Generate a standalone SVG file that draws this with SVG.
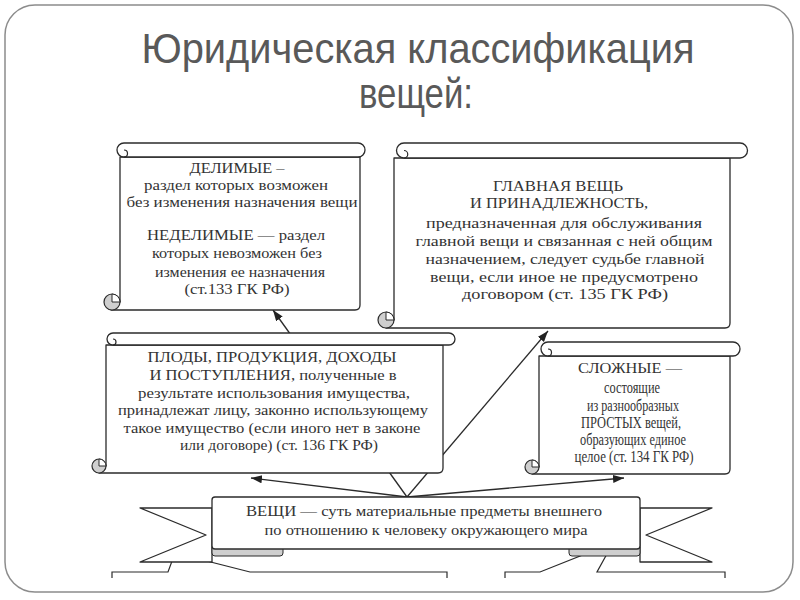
<svg xmlns="http://www.w3.org/2000/svg" width="800" height="600" viewBox="0 0 800 600">
<style>
.frame{fill:#fff;stroke:#8c8c8c;stroke-width:1.5}
.title{font-family:"Liberation Sans",Arial,sans-serif;font-size:43px;fill:#595959;text-anchor:middle}
.sh{fill:#fff;stroke:#2b2b2b;stroke-width:1.3;stroke-linejoin:round}
.curl{fill:#cfcfcf;stroke:#2b2b2b;stroke-width:1.2}
.wedge{fill:#fff;stroke:#2b2b2b;stroke-width:1}
.ln{fill:none;stroke:#2b2b2b;stroke-width:1.2}
.strip{fill:#cfcfcf;stroke:#2b2b2b;stroke-width:1}
.t{font-family:"Liberation Serif","Times New Roman",serif;fill:#333;text-anchor:middle;font-size:15px}
.s{font-size:16px}
.conn{fill:none;stroke:#2b2b2b;stroke-width:1.3}
</style>
<defs>
<marker id="ah" markerUnits="userSpaceOnUse" markerWidth="12" markerHeight="10" refX="11" refY="4" orient="auto">
<path d="M0,0 L11,4 L0,8 Z" fill="#222"/>
</marker>
</defs>

<rect class="frame" x="5" y="5" width="788" height="587" rx="30"/>

<g id="title">
<text class="title" x="418" y="63" textLength="553" lengthAdjust="spacingAndGlyphs">Юридическая классификация</text>
<text class="title" x="416" y="108" textLength="114" lengthAdjust="spacingAndGlyphs">вещей:</text>
</g>

<g id="connectors">
<path class="conn" d="M407,497 L273,310" marker-end="url(#ah)"/>
<path class="conn" d="M407,497 L548,331" marker-end="url(#ah)"/>
<path class="conn" d="M407,497 L251,478" marker-end="url(#ah)"/>
<path class="conn" d="M407,497 L624,478" marker-end="url(#ah)"/>
</g>

<g id="lower-ribbon">
<polyline class="ln" points="112,578 112,572 168,572 175,553 250,572 447,572 447,578"/>
<polyline class="ln" points="505,578 505,572 540,572 613,543 597,572 725,572 725,578"/>
</g>

<!-- top-left scroll -->
<g id="node-delimye">
<path class="sh" d="M120,157 V302 H111 V310 H355 Q360,310 360,305 V157 Z"/>
<circle class="curl" cx="112" cy="302" r="8"/>
<path class="wedge" d="M112,302 V294 A8,8 0 0 1 120,302 Z"/>
<path class="sh" d="M124,143 H358 A7,7 0 0 1 358,157 H124 A7,7 0 0 1 124,143 Z"/>
<path class="ln" d="M124,150 a3.5,3.5 0 1 1 0,7"/>
<text class="t" x="237" y="173" textLength="95" lengthAdjust="spacingAndGlyphs">ДЕЛИМЫЕ –</text>
<text class="t" x="236" y="190" textLength="184" lengthAdjust="spacingAndGlyphs">раздел которых возможен</text>
<text class="t" x="242" y="207" textLength="231" lengthAdjust="spacingAndGlyphs">без изменения назначения вещи</text>
<text class="t" x="236" y="240" textLength="178" lengthAdjust="spacingAndGlyphs">НЕДЕЛИМЫЕ — раздел</text>
<text class="t" x="237" y="258" textLength="170" lengthAdjust="spacingAndGlyphs">которых невозможен без</text>
<text class="t" x="240" y="277" textLength="170" lengthAdjust="spacingAndGlyphs">изменения ее назначения</text>
<text class="t" x="237" y="294" textLength="105" lengthAdjust="spacingAndGlyphs">(ст.133 ГК РФ)</text>
</g>

<!-- top-right scroll -->
<g id="node-glavnaya">
<path class="sh" d="M394,158 V320 H386 V328 H725 Q730,328 730,323 V158 Z"/>
<circle class="curl" cx="386" cy="320" r="8"/>
<path class="wedge" d="M386,320 V312 A8,8 0 0 1 394,320 Z"/>
<path class="sh" d="M404,143 H740 A7.5,7.5 0 0 1 740,158 H404 A7.5,7.5 0 0 1 404,143 Z"/>
<path class="ln" d="M404,150.5 a3.7,3.7 0 1 1 0,7.5"/>
<text class="t" x="558" y="191" textLength="130" lengthAdjust="spacingAndGlyphs">ГЛАВНАЯ ВЕЩЬ</text>
<text class="t" x="559" y="208" textLength="178" lengthAdjust="spacingAndGlyphs">И ПРИНАДЛЕЖНОСТЬ,</text>
<text class="t" x="564" y="228" textLength="276" lengthAdjust="spacingAndGlyphs">предназначенная для обслуживания</text>
<text class="t" x="564" y="246" textLength="297" lengthAdjust="spacingAndGlyphs">главной вещи и связанная с ней общим</text>
<text class="t" x="565" y="264" textLength="279" lengthAdjust="spacingAndGlyphs">назначением, следует судьбе главной</text>
<text class="t" x="564" y="282" textLength="268" lengthAdjust="spacingAndGlyphs">вещи, если иное не предусмотрено</text>
<text class="t" x="565" y="299" textLength="206" lengthAdjust="spacingAndGlyphs">договором (ст. 135 ГК РФ)</text>
</g>

<!-- middle-left scroll -->
<g id="node-plody">
<path class="sh" d="M106,345 V466 H99 V473 H438 Q443,473 443,468 V345 Z"/>
<circle class="curl" cx="99" cy="466" r="7"/>
<path class="wedge" d="M99,466 V459 A7,7 0 0 1 106,466 Z"/>
<path class="sh" d="M113,333 H449 A6,6 0 0 1 449,345 H113 A6,6 0 0 1 113,333 Z"/>
<path class="ln" d="M113,339 a3,3 0 1 1 0,6"/>
<text class="t" x="272" y="362" textLength="249" lengthAdjust="spacingAndGlyphs">ПЛОДЫ, ПРОДУКЦИЯ, ДОХОДЫ</text>
<text class="t" x="273" y="380" textLength="247" lengthAdjust="spacingAndGlyphs">И ПОСТУПЛЕНИЯ, полученные в</text>
<text class="t" x="274" y="398" textLength="272" lengthAdjust="spacingAndGlyphs">результате использования имущества,</text>
<text class="t" x="273" y="415" textLength="310" lengthAdjust="spacingAndGlyphs">принадлежат лицу, законно использующему</text>
<text class="t" x="272" y="433" textLength="297" lengthAdjust="spacingAndGlyphs">такое имущество (если иного нет в законе</text>
<text class="t" x="279" y="450" textLength="198" lengthAdjust="spacingAndGlyphs">или договоре) (ст. 136 ГК РФ)</text>
</g>

<!-- middle-right scroll -->
<g id="node-slozhnye">
<path class="sh" d="M539,356 V467 H532 V474 H725 Q730,474 730,469 V356 Z"/>
<circle class="curl" cx="532" cy="467" r="7"/>
<path class="wedge" d="M532,467 V460 A7,7 0 0 1 539,467 Z"/>
<path class="sh" d="M548,342 H733 A7,7 0 0 1 733,356 H548 A7,7 0 0 1 548,342 Z"/>
<path class="ln" d="M548,349 a3.5,3.5 0 1 1 0,7"/>
<text class="t" x="630" y="373" textLength="104" lengthAdjust="spacingAndGlyphs">СЛОЖНЫЕ —</text>
<text class="t s" x="632" y="393" textLength="56" lengthAdjust="spacingAndGlyphs">состоящие</text>
<text class="t s" x="633" y="411" textLength="92" lengthAdjust="spacingAndGlyphs">из разнообразных</text>
<text class="t s" x="631" y="428" textLength="100" lengthAdjust="spacingAndGlyphs">ПРОСТЫХ вещей,</text>
<text class="t s" x="633" y="445" textLength="106" lengthAdjust="spacingAndGlyphs">образующих единое</text>
<text class="t s" x="634" y="462" textLength="119" lengthAdjust="spacingAndGlyphs">целое (ст. 134 ГК РФ)</text>
</g>

<!-- bottom banner -->
<g id="node-veshchi">
<path class="sh" d="M212,508 H140 L206,535 L140,562 H212 Z"/>
<path class="sh" d="M640,508 H712 L646,535 L712,562 H640 Z"/>
<rect class="strip" x="212" y="545" width="71" height="11" rx="3"/>
<rect class="strip" x="569" y="545" width="71" height="11" rx="3"/>
<rect class="sh" x="212" y="497" width="428" height="52" rx="3"/>
<text class="t" x="424" y="516" textLength="356" lengthAdjust="spacingAndGlyphs">ВЕЩИ — суть материальные предметы внешнего</text>
<text class="t" x="426" y="535" textLength="323" lengthAdjust="spacingAndGlyphs">по отношению к человеку окружающего мира</text>
</g>
</svg>
